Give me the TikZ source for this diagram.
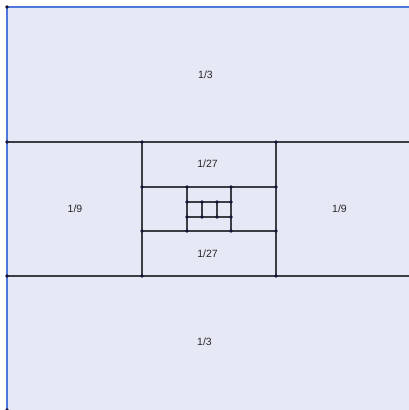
\documentclass[tikz,border=0pt]{standalone}
\usepackage{fontspec}
\setmainfont{Liberation Sans}
\usetikzlibrary{calc}
\definecolor{fondo}{RGB}{230,233,245}
\definecolor{borde}{RGB}{80,120,220}
\definecolor{linea}{RGB}{60,62,70}
\definecolor{puntos}{RGB}{20,20,55}

\begin{document}
\begin{tikzpicture}[x=1pt, y=-1pt, every node/.style={font=\fontsize{10.5}{12}\selectfont, text=black!85},
  corte/.style={draw=linea, line width=1.5pt},
  punto/.style={fill=puntos}]
\useasboundingbox (0,0) rectangle (409,410);
\fill[fondo] (7,7) rectangle (425,425);
\draw[borde, line width=2pt] (7,425) -- (7,7) -- (425,7);
\coordinate (esqA) at (7,7);
\coordinate (esqB) at (7,410);
\fill[punto] (esqA) circle (1.9) (esqB) circle (1.9);
% tres niveles de cortes: borde, primer corte, segundo corte, borde
\foreach \k/\a/\p/\q/\b in {0/7/142/276/411, 1/142/187/231/276, 2/187/202/217/231}{
  \coordinate (a\k) at (\a,\p);
  \coordinate (b\k) at (\b,\p);
  \coordinate (c\k) at (\a,\q);
  \coordinate (d\k) at (\b,\q);
  \coordinate (e\k) at (\p,\p);
  \coordinate (f\k) at (\p,\q);
  \coordinate (g\k) at (\q,\p);
  \coordinate (h\k) at (\q,\q);
  \draw[corte] (a\k) -- (b\k) (c\k) -- (d\k) (e\k) -- (f\k) (g\k) -- (h\k);
  \foreach \n in {a,b,c,d,e,f,g,h}
    \fill[punto] (\n\k) circle (1.9);
}
\node (tercioArriba) at (205.5,74.5) {1/3};
\node (tercioAbajo) at (204.5,341.5) {1/3};
\node (novenoIzq) at (75,209) {1/9};
\node (novenoDer) at (339.5,209) {1/9};
\node (veintisieteArriba) at (207.5,164) {1/27};
\node (veintisieteAbajo) at (207.5,253.5) {1/27};
\end{tikzpicture}
\end{document}
